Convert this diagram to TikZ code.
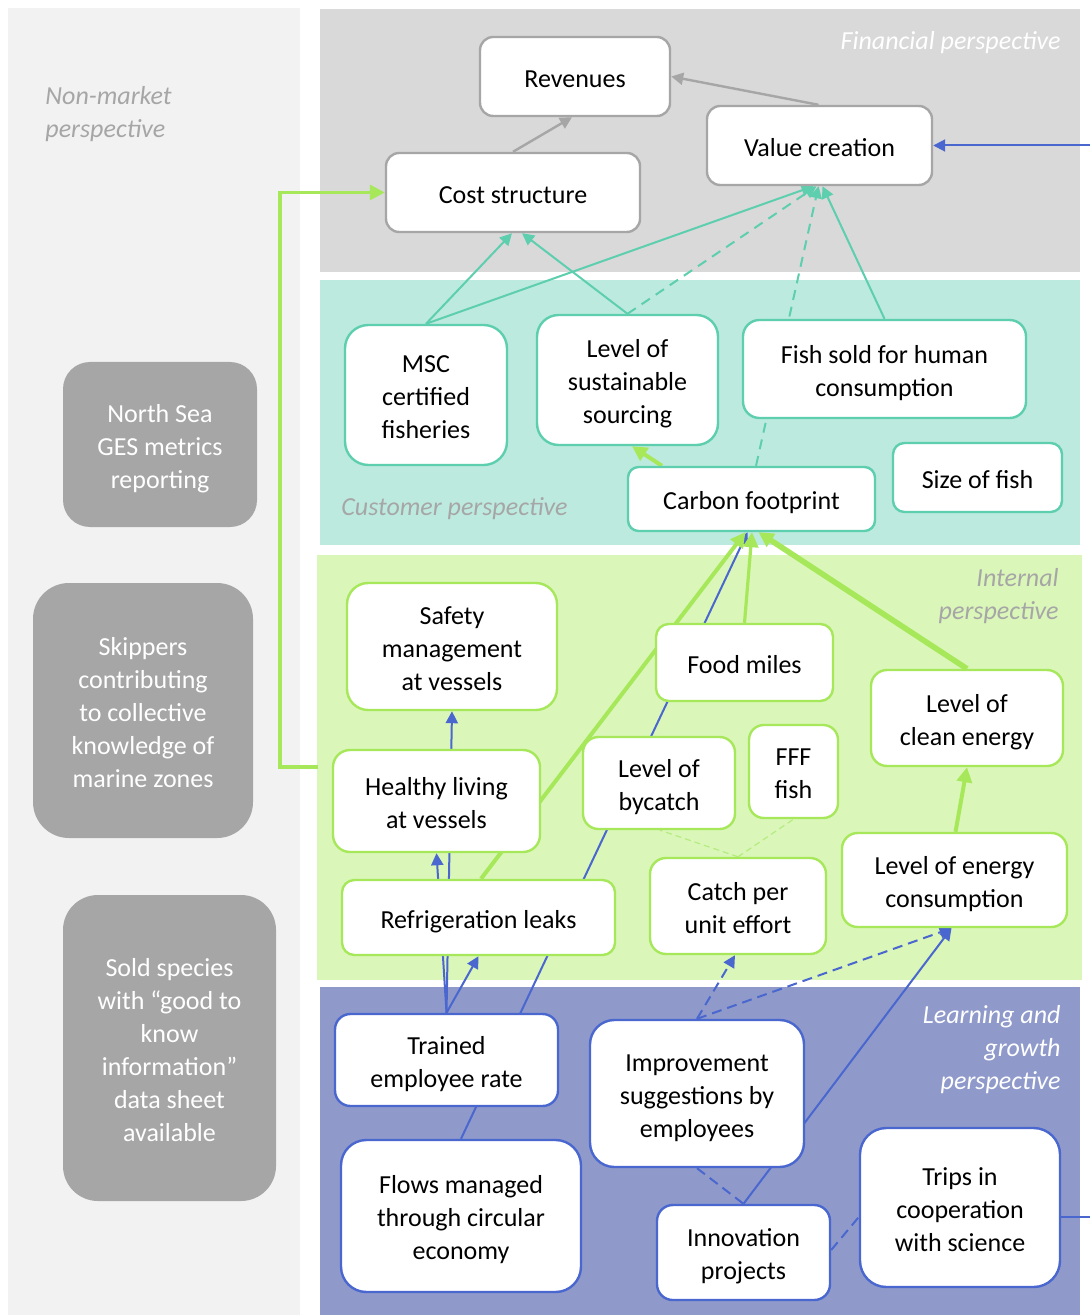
\documentclass[tikz,border=0pt]{standalone}
\usepackage{fontspec}
\setmainfont{Carlito}
\usetikzlibrary{arrows.meta,calc}
\definecolor{nmbg}{HTML}{F2F2F2}
\definecolor{finbg}{HTML}{D9D9D9}
\definecolor{cusbg}{HTML}{BDEADF}
\definecolor{intbg}{HTML}{DAF6B9}
\definecolor{lrnbg}{HTML}{8F9ACB}
\definecolor{graybd}{HTML}{A6A6A6}
\definecolor{tealc}{HTML}{5DCFAE}
\definecolor{greenc}{HTML}{A6E85A}
\definecolor{bluec}{HTML}{4A67CF}
\definecolor{lgreen}{HTML}{B5EC80}
\definecolor{nmfill}{HTML}{A6A6A6}
\definecolor{lbl}{HTML}{A6A6A6}
\pgfdeclarelayer{bg}
\pgfdeclarelayer{edges}
\pgfsetlayers{bg,edges,main}
\newcommand{\nodefont}{\fontsize{13}{16.5}\selectfont}
% fixed line box so every label sits at the same height in its box
\newcommand{\nstrut}{\rule[-3.3pt]{0pt}{17.5pt}}

\begin{document}
\begin{tikzpicture}[x=0.5pt,y=-0.5pt,
  txt/.style={execute at end node=\nstrut},
  box/.style={rectangle, fill=white, line width=1.2pt, align=center,
    inner sep=0pt, font=\nodefont, text=black, txt},
  fin/.style={box, draw=graybd},
  cus/.style={box, draw=tealc},
  int/.style={box, draw=greenc},
  lrn/.style={box, draw=bluec},
  nm/.style={rectangle, fill=nmfill, text=white, align=center,
    inner sep=0pt, font=\nodefont, txt},
  dim/.style n args={3}{minimum width=#1pt, minimum height=#2pt, rounded corners=#3pt},
  persp/.style={font=\nodefont\itshape, inner sep=0pt, txt},
  tipS/.style={-{Triangle[length=6pt,width=6pt]}},
  tipL/.style={-{Triangle[length=7.5pt,width=7.5pt]}},
  grayln/.style={draw=graybd, line width=1.2pt, tipS},
  tealln/.style={draw=tealc, line width=1pt, tipS},
  tealdash/.style={tealln, dash pattern=on 5pt off 3.5pt},
  blueln/.style={draw=bluec, line width=1pt},
  bluedash/.style={blueln, dash pattern=on 5pt off 3pt},
  greenln/.style={draw=greenc, line width=2pt, tipL},
  lgdash/.style={draw=lgreen, line width=0.6pt, dash pattern=on 3pt off 2pt},
]
\useasboundingbox (0,0) rectangle (1089,1315);
\clip (0,0) rectangle (1089,1315);

% perspective bands
\begin{pgfonlayer}{bg}
  \fill[white] (0,0) rectangle (1089,1315);
  \fill[nmbg]  (8,8) rectangle (300,1315);
  \fill[finbg] (320,9) rectangle (1080,272);
  \fill[cusbg] (320,280) rectangle (1080,545);
  \fill[intbg] (317,555) rectangle (1082,980);
  \fill[lrnbg] (320,987) rectangle (1080,1315);
\end{pgfonlayer}

% band titles
\node[persp, text=lbl, align=left, anchor=west] (nmlabel) at (45,110.5) {\nstrut Non-market\\perspective};
\node[persp, text=white, anchor=east] (finlabel) at (1061,39) {\nstrut Financial perspective};
\node[persp, text=lbl, anchor=west] (cuslabel) at (341,505) {\nstrut Customer perspective};
\node[persp, text=lbl, align=right, anchor=east] (intlabel) at (1059,592.5) {\nstrut Internal\\perspective};
\node[persp, text=white, align=right, anchor=east] (lrnlabel) at (1061,1046) {\nstrut Learning and\\growth\\perspective};

% non-market measures
\node[nm, dim={97}{82.5}{13.5}]   (ges)  at (160,444.5) {\nstrut North Sea\\GES metrics\\reporting};
\node[nm, dim={110}{127.5}{18}]   (skip) at (143,710.5) {\nstrut Skippers\\contributing\\to collective\\knowledge of\\marine zones};
\node[nm, dim={106.5}{153}{17.5}] (sold) at (169.5,1048) {\nstrut Sold species\\with “good to\\know\\information”\\data sheet\\available};

% financial perspective
\node[fin, dim={95}{39.5}{6.6}]    (rev)  at (575,76.5)  {\nstrut Revenues};
\node[fin, dim={112.5}{39.5}{6.6}] (val)  at (819.5,145.5) {\nstrut Value creation};
\node[fin, dim={127}{39.5}{6.6}]   (cost) at (513,192.5) {\nstrut Cost structure};

% customer perspective
\node[cus, dim={81}{70}{11.7}]     (msc)    at (426,395)     {\nstrut MSC\\certified\\fisheries};
\node[cus, dim={90.5}{65}{10.8}]   (sust)   at (627.5,380)   {\nstrut Level of\\sustainable\\sourcing};
\node[cus, dim={141.5}{49}{8.2}]   (fish)   at (884.5,369)   {\nstrut Fish sold for human\\consumption};
\node[cus, dim={123.5}{32}{5.3}]   (carbon) at (751.5,499)   {\nstrut Carbon footprint};
\node[cus, dim={84.5}{34.5}{5.7}]  (size)   at (977.5,477.5) {\nstrut Size of fish};

% internal perspective
\node[int, dim={105}{63.5}{10.6}]  (safety)  at (452,646.5)   {\nstrut Safety\\management\\at vessels};
\node[int, dim={88.5}{38.5}{6.4}]  (food)    at (744.5,662.5) {\nstrut Food miles};
\node[int, dim={96}{48}{8}]        (clean)   at (967,718)     {\nstrut Level of\\clean energy};
\node[int, dim={103.5}{51}{8.5}]   (healthy) at (436.5,801)   {\nstrut Healthy living\\at vessels};
\node[int, dim={76}{46}{7.7}]      (bycatch) at (659,783)     {\nstrut Level of\\bycatch};
\node[int, dim={44.5}{46.5}{7.4}]  (fff)     at (793.5,771.5) {\nstrut FFF\\fish};
\node[int, dim={136.5}{37.5}{6.2}] (refrig)  at (478.5,917.5) {\nstrut Refrigeration leaks};
\node[int, dim={88}{48}{8}]        (catch)   at (738,906)     {\nstrut Catch per\\unit effort};
\node[int, dim={112.5}{47}{7.8}]   (energy)  at (954.5,880)   {\nstrut Level of energy\\consumption};

% learning and growth perspective
\node[lrn, dim={111.5}{46}{7.7}]   (trained) at (446.5,1060)  {\nstrut Trained\\employee rate};
\node[lrn, dim={107}{73.5}{12.2}]  (improve) at (697,1093.5)  {\nstrut Improvement\\suggestions by\\employees};
\node[lrn, dim={120}{76}{12.7}]    (flows)   at (461,1216)    {\nstrut Flows managed\\through circular\\economy};
\node[lrn, dim={86.5}{47.5}{7.9}]  (innov)   at (743.5,1252.5){\nstrut Innovation\\projects};
\node[lrn, dim={100}{79.5}{13.2}]  (trips)   at (960,1207.5)  {\nstrut Trips in\\cooperation\\with science};

\coordinate (intin) at (318,767);

\begin{pgfonlayer}{edges}
  % financial links
  \draw[grayln] (cost.north) -- ($(rev.south)+(-3,0)$);
  \draw[grayln] ($(val.north)+(-1,0)$) -- (rev.east);
  % learning feeds value creation along the right margin
  \draw[blueln, tipS] ($(trips.east)+(0,9.5)$) -- ++(60,0) |- (val.east);
  % internal perspective feeds cost structure along the left margin
  \draw[greenln, line width=1.6pt] (intin) -- ++(-38,0) |- (cost.west);

  % customer to financial
  \draw[tealln] (msc.north) -- ($(cost.south)+(-1,0)$);
  \draw[tealln] (sust.north) -- ($(cost.south)+(9,0)$);
  \draw[tealln] (msc.north) -- ($(val.south)+(-6,0)$);
  \draw[tealdash] (sust.north) -- ($(val.south)+(-3,0)$);
  \draw[tealdash] ($(carbon.north)+(4.5,0)$) -- ($(val.south)+(-1,0)$);
  \draw[tealln] (fish.north) -- ($(val.south)+(3,0)$);

  % learning links
  \draw[blueln, tipS] (flows.north) -- ($(carbon.south)+(-4,0)$);
  \draw[blueln, tipS] (trained.north) -- (refrig.south);
  \draw[blueln, tipS] (trained.north) -- (healthy.south);
  \draw[blueln, tipS] (trained.north) -- (safety.south);
  \draw[bluedash, tipS] (improve.north) -- ($(catch.south)+(-3,0)$);
  \draw[bluedash, tipS] (improve.north) -- ($(energy.south)+(-3,0)$);
  \draw[blueln, tipS] (innov.north) -- ($(energy.south)+(-3,0)$);
  \draw[bluedash] (improve.south) -- (innov.north);
  \draw[bluedash] ($(innov.east)+(0,-2.5)$) -- ($(trips.west)+(0,9.5)$);

  % internal links
  \draw[lgdash] (catch.north) -- ($(bycatch.south)+(1,0)$);
  \draw[lgdash] (catch.north) -- (fff.south);
  \draw[greenln] ($(refrig.north)+(2.5,0)$) -- ($(carbon.south)+(-6,0)$);
  \draw[greenln, line width=1.6pt] (food.north) -- ($(carbon.south)+(0.5,0)$);
  \draw[greenln, line width=2.8pt] (clean.north) -- ($(carbon.south)+(7,0)$);
  \draw[greenln] ($(energy.north)+(1,0)$) -- (clean.south);
  \draw[greenln] ($(carbon.north)+(-89.5,0)$) -- ($(sust.south)+(4.5,0)$);
\end{pgfonlayer}
\end{tikzpicture}
\end{document}
